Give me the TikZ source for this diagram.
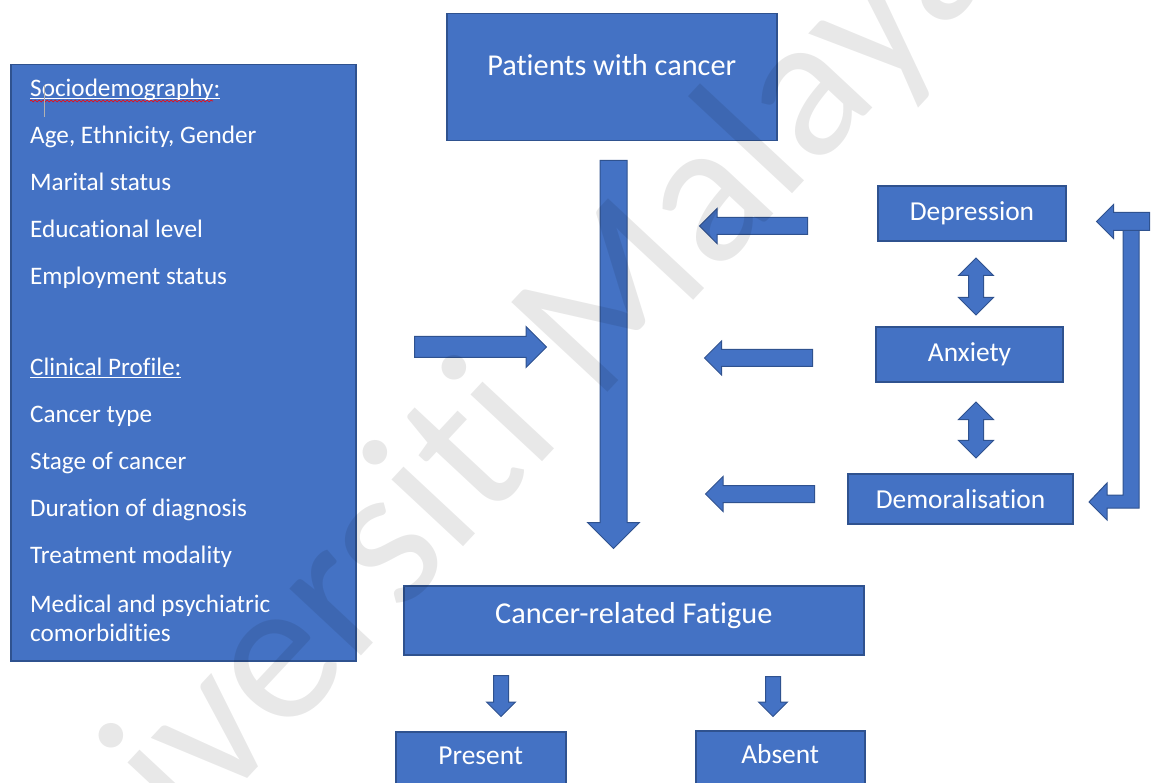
\documentclass[tikz,border=0pt]{standalone}
\usepackage{fontspec}
\setmainfont{Carlito}[RawFeature={-liga;-dlig;-clig;-calt}]
\usetikzlibrary{positioning,shapes.arrows,decorations.pathmorphing}

\definecolor{boxblue}{HTML}{4472C4}
\definecolor{boxline}{HTML}{2F528F}

\newcommand{\fontbig}{\fontsize{30.3}{36}\selectfont}
\newcommand{\fontmid}{\fontsize{27.4}{33}\selectfont}
\newcommand{\fontlist}{\fontsize{25.2}{47}\selectfont}
% underline through the descenders, as the word processor draws it
\newcommand{\ulword}[1]{\setbox0\hbox{#1}\rlap{\rule[-2.5pt]{\wd0}{1.3pt}}\box0}

\tikzset{
  box/.style={draw=boxline, fill=boxblue, line width=1.5pt, text=white, inner sep=0pt},
  boxtext/.style={text=white, inner sep=0pt},
  blockarrow/.style={single arrow, draw=boxline, fill=boxblue, line width=1pt,
    inner sep=0pt, minimum width=0pt, single arrow tip angle=90, anchor=tail},
  twinarrow/.style={double arrow, draw=boxline, fill=boxblue, line width=1pt,
    inner sep=0pt, minimum width=0pt, double arrow tip angle=90}
}

\begin{document}
\begin{tikzpicture}[x=1pt,y=-1pt]
    \useasboundingbox (0,0) rectangle (1159,783);
    \clip (0,0) rectangle (1159,783);

    % left column
    \node[box, anchor=north west, minimum width=345pt, minimum height=596pt] (profile) at (10,64) {};
    \node[boxtext, anchor=north west, align=left, font=\fontlist] (profiletext) at (30,79)
    {
        \ulword{Sociodemography:}\\
        Age, Ethnicity, Gender\\
        Marital status\\
        Educational level\\
        Employment status\\[44pt]
        \ulword{Clinical Profile:}\\
        Cancer type\\
        Stage of cancer\\
        Duration of diagnosis\\
        Treatment modality\\[2pt]
        Medical and psychiatric\\[-18pt]
        comorbidities
    };
    \draw[red, line width=0.6pt, decorate, decoration={snake, amplitude=0.9pt, segment length=4pt}]
        (30,101) -- (213,101);
    \draw[gray!60, line width=0.5pt] (44,85) -- (44,117);

    % centre column
    \node[box, anchor=north west, minimum width=330pt, minimum height=127pt] (patients) at (446,13) {};
    \node[boxtext, anchor=base, font=\fontbig] (patientstext) at ([yshift=-63pt]patients.north) {Patients with cancer};
    \node[box, anchor=north west, minimum width=460pt, minimum height=69pt] (fatigue) at (403,585) {};
    \node[boxtext, anchor=base, font=\fontbig] (fatiguetext) at ([yshift=-38pt]fatigue.north) {Cancer-related Fatigue};
    \node[box, anchor=north west, minimum width=170pt, minimum height=80pt] (present) at (395,731) {};
    \node[boxtext, anchor=base, font=\fontmid] (presenttext) at ([yshift=-33pt]present.north) {Present};
    \node[box, anchor=north west, minimum width=169pt, minimum height=80pt] (absent) at (695,730) {};
    \node[boxtext, anchor=base, font=\fontmid] (absenttext) at ([yshift=-33pt]absent.north) {Absent};

    % right column
    \node[box, font=\fontmid, minimum width=188pt, minimum height=55pt] (depression) at (972,213.5) {Depression};
    \node[box, font=\fontmid, minimum width=187pt, minimum height=55pt] (anxiety) at (969.5,354.5) {Anxiety};
    \node[box, font=\fontmid, minimum width=225pt, minimum height=50pt] (demoral) at (960.5,499) {Demoralisation};

    % block arrows, placed by their tails
    \node[blockarrow, rotate=-90, minimum height=388pt, inner ysep=13pt, single arrow head extend=12.5pt] (mainarrow) at (613.5,160) {};
    \node[blockarrow, minimum height=132pt, inner ysep=10pt, single arrow head extend=10pt] (profilearrow) at (414,347) {};
    \node[blockarrow, rotate=180, minimum height=108pt, inner ysep=8pt, single arrow head extend=9pt] (deparrow) at (808,226) {};
    \node[blockarrow, rotate=180, minimum height=108pt, inner ysep=8pt, single arrow head extend=8.5pt] (anxarrow) at (813,358) {};
    \node[blockarrow, rotate=180, minimum height=109pt, inner ysep=8pt, single arrow head extend=9pt] (demarrow) at (815,494) {};
    \node[twinarrow, rotate=90, minimum height=57pt, inner ysep=7pt, double arrow head extend=10pt] (deptoanx) at (976,286.5) {};
    \node[twinarrow, rotate=90, minimum height=56pt, inner ysep=7pt, double arrow head extend=10pt] (anxtodem) at (976,430) {};
    \node[blockarrow, rotate=-90, minimum height=41pt, inner ysep=7pt, single arrow head extend=7pt] (presentarrow) at (501,675) {};
    \node[blockarrow, rotate=-90, minimum height=40pt, inner ysep=7pt, single arrow head extend=7pt] (absentarrow) at (773,676) {};

    % loop from depression down to demoralisation
    \draw[draw=boxline, fill=boxblue, line width=1pt]
        (1123,225) -- (1139,225) -- (1139,508) -- (1107,508) -- (1107,520) -- (1089,502)
        -- (1107,483) -- (1107,495) -- (1123,495) -- cycle;
    \node[blockarrow, rotate=180, minimum height=53pt, inner ysep=8.5pt, single arrow head extend=8pt] (looparrow) at (1150,221.5) {};

    % watermark
    \node[anchor=base west, rotate=47, inner sep=0pt, text=black, text opacity=0.09,
        font=\fontsize{205}{205}\selectfont] (watermark) at (26,1016) {Universiti Malaya};
\end{tikzpicture}
\end{document}
